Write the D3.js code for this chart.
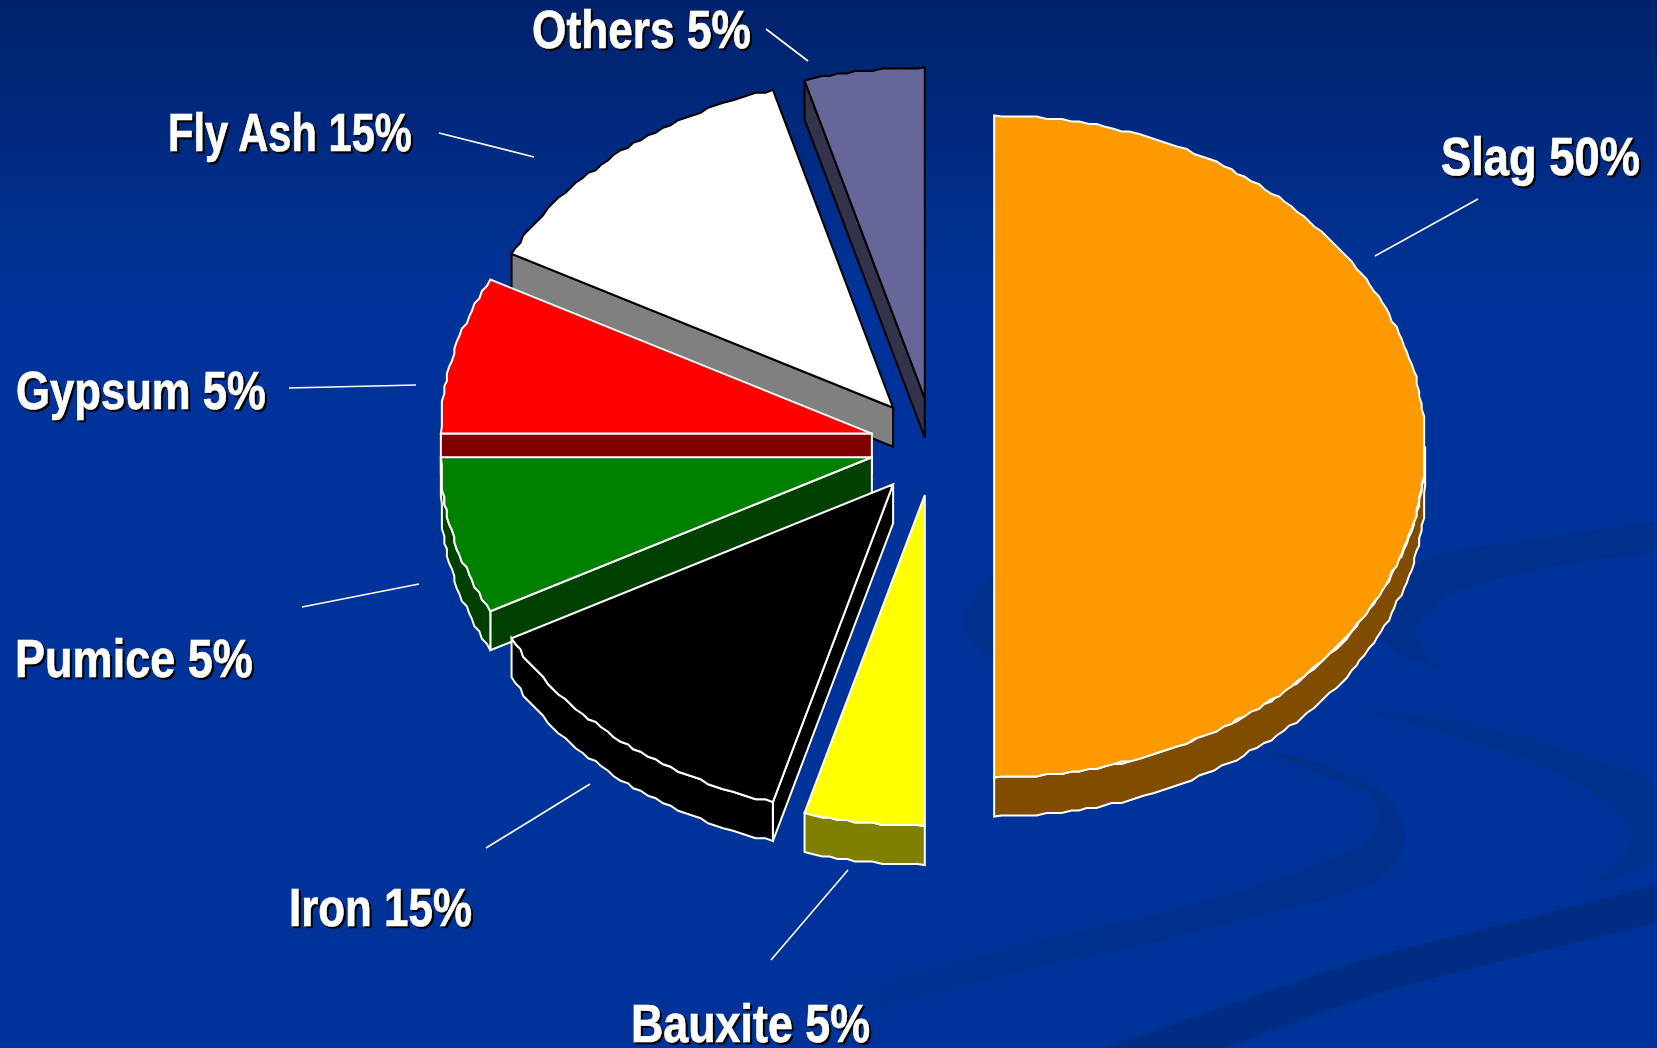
<!DOCTYPE html>
<html>
<head>
<meta charset="utf-8">
<script src="https://cdnjs.cloudflare.com/ajax/libs/d3/7.8.5/d3.min.js"></script>
<style>
  html, body { margin: 0; padding: 0; background: #003399; overflow: hidden; }
  svg { display: block; }
  .labels { filter: drop-shadow(2.5px 2.5px 0 #000); }
  .label {
    font-family: "Liberation Sans", sans-serif;
    font-weight: bold;
    font-size: 54px;
    fill: #fff;
    stroke: #fff;
    stroke-width: 0.7px;
  }
</style>
</head>
<body>
<svg id="chart" width="1657" height="1048"></svg>
<script>
// slices run clockwise from 12 o'clock
const materials = ["Slag", "Bauxite", "Iron", "Pumice", "Gypsum", "Fly Ash", "Others"];
const drawnShare = [50, 4.5, 12.8, 7.7, 7.7, 12.8, 4.5]; // size of the drawn wedges
const printedShare = [50, 5, 15, 5, 5, 15, 5]; // what the labels say

const topColors = ["#ff9900", "#ffff00", "#000000", "#008000", "#ff0000", "#ffffff", "#666699"];
const sideColors = ["#804d00", "#808000", "#000000", "#004000", "#800000", "#808080", "#33334c"];
const outlineColors = ["#fff", "#fff", "#fff", "#fff", "#fff", "#000", "#000"];
const explodeXAmount = [0.94, 1.02, 1.01, 1, 1, 1.01, 1.02];
const explodeYAmount = [1, 0.98, 0.975, 0.9, 1.08, 1, 0.97];

// label left edge / baseline / width, then leader line ends
const labelPos = [[1441, 175, 199], [631, 1042, 239], [289, 926, 183], [15, 677, 238], [16, 409, 250], [168, 151, 244], [532, 48, 219]];
const leaders = [
  [1478, 199, 1375, 256], [771, 960, 848, 870], [486, 848, 590, 784], [302, 607, 419, 584],
  [289, 388, 416, 385], [439, 133, 534, 157], [766, 29, 808, 61]
];

const cx = 934, cy = 446.5, rx = 431, ry = 331, depth = 39;
const explodeX = 64, explodeY = 50;

const svg = d3.select("#chart");
const defs = svg.append("defs");

// background
const grad = defs.append("linearGradient")
  .attr("id", "bg").attr("x1", 0).attr("y1", 0).attr("x2", 0).attr("y2", 1);
grad.append("stop").attr("offset", "0%").attr("stop-color", "#00226b");
grad.append("stop").attr("offset", "28%").attr("stop-color", "#003399");
grad.append("stop").attr("offset", "100%").attr("stop-color", "#003399");
svg.append("rect").attr("width", 1657).attr("height", 1048).attr("fill", "url(#bg)");

const fade = defs.append("linearGradient")
  .attr("id", "bandFade").attr("gradientUnits", "userSpaceOnUse")
  .attr("x1", 800).attr("y1", 0).attr("x2", 1120).attr("y2", 0);
fade.append("stop").attr("offset", "0%").attr("stop-color", "#003399");
fade.append("stop").attr("offset", "100%").attr("stop-color", "#00308c");

// faint swooshes behind the pie, each as two sides of a band
const swooshes = [
  { fill: "#00308c",
    a: [[1657, 522], [1533, 540], [1410, 568], [1380, 637], [1440, 670]],
    b: [[1440, 670], [1415, 633], [1440, 600], [1533, 570], [1657, 552]] },
  { fill: "#00318f",
    a: [[1357, 710], [1467, 723], [1583, 757], [1657, 787], [1657, 857], [1587, 885]],
    b: [[1587, 885], [1623, 857], [1630, 830], [1567, 777], [1467, 740], [1357, 710]] },
  { fill: "url(#bandFade)",
    a: [[1260, 748], [1333, 768], [1387, 797], [1405, 838], [1387, 873], [1333, 897], [1277, 910], [1163, 940], [1040, 967], [914, 1000], [837, 1027]],
    b: [[780, 1007], [914, 973], [1040, 940], [1163, 913], [1300, 870], [1367, 840], [1378, 813], [1367, 793], [1317, 773], [1260, 748]] },
  { fill: "#002d84",
    a: [[1657, 885], [1440, 940], [1380, 955], [1105, 1048]],
    b: [[1224, 1048], [1380, 993], [1657, 923]] },
  { fill: "#00308c",
    a: [[993, 575], [962, 625], [993, 660]],
    b: [[993, 660], [993, 575]] }
];
const swooshLine = d3.line().curve(d3.curveCatmullRom.alpha(0.5));
svg.append("g").selectAll("path")
  .data(swooshes)
  .enter().append("path")
  .attr("d", d => swooshLine(d.a) + swooshLine(d.b).replace("M", "L") + "Z")
  .attr("fill", d => d.fill);

const arcs = d3.pie().sort(null).value(d => d)(drawnShare);

const x = d3.scaleLinear().domain([-1, 1]).range([-rx, rx]);
const y = d3.scaleLinear().domain([-1, 1]).range([-ry, ry]);

// rim of a wedge; the rounding keeps the wobbly edge of the original
function rim(a0, a1) {
  const n = Math.max(2, Math.round((a1 - a0) / 0.02));
  return d3.range(n + 1).map(i => {
    const t = a0 + (a1 - a0) * i / n;
    const px = x(Math.sin(t)), py = y(-Math.cos(t));
    if (i === 0 || i === n) return [px, py];
    return [Math.round(px / 2.5) * 2.5, Math.round(py / 2.5) * 2.5];
  });
}
const poly = d3.line();
const shift = pts => pts.map(p => [p[0], p[1] + depth]);

// back to front
const order = [6, 5, 4, 3, 2, 1, 0];
order.forEach(i => {
  const a = arcs[i];
  const mid = (a.startAngle + a.endAngle) / 2;
  const g = svg.append("g")
    .attr("transform", `translate(${cx + Math.sin(mid) * explodeX * explodeXAmount[i]},${cy - Math.cos(mid) * explodeY * explodeYAmount[i]})`);

  const paint = sel => sel
    .attr("stroke", outlineColors[i])
    .attr("stroke-width", 2)
    .attr("stroke-linejoin", "miter");

  // straight side, only where it faces the viewer
  if (Math.sin(a.startAngle) < -0.01) {
    const edge = [[0, 0], [x(Math.sin(a.startAngle)), y(-Math.cos(a.startAngle))]];
    g.append("path")
      .attr("d", poly(edge.concat(shift(edge).reverse())) + "Z")
      .attr("fill", sideColors[i])
      .call(paint);
  }

  // rounded side, lower half only
  const from = Math.max(a.startAngle, Math.PI / 2), to = Math.min(a.endAngle, 3 * Math.PI / 2);
  if (to > from) {
    const pts = rim(from, to);
    g.append("path")
      .attr("d", poly(pts.concat(shift(pts).reverse())) + "Z")
      .attr("fill", sideColors[i])
      .call(paint);
  }

  g.append("path")
    .attr("d", poly([[0, 0]].concat(rim(a.startAngle, a.endAngle))) + "Z")
    .attr("fill", topColors[i])
    .call(paint);
});

// leader lines
svg.append("g").selectAll("line")
  .data(leaders)
  .enter().append("line")
  .attr("x1", d => d[0]).attr("y1", d => d[1])
  .attr("x2", d => d[2]).attr("y2", d => d[3])
  .attr("stroke", "#fff")
  .attr("stroke-width", 1.6);

// labels, squeezed sideways to the narrow face of the original
svg.append("g").attr("class", "labels").selectAll("text")
  .data(materials)
  .enter().append("text")
  .attr("class", "label")
  .text((d, i) => `${d} ${printedShare[i]}%`)
  .attr("transform", function(d, i) {
    const squeeze = labelPos[i][2] / this.getComputedTextLength();
    return `translate(${labelPos[i][0]},${labelPos[i][1]}) scale(${squeeze},1)`;
  });
</script>
</body>
</html>
